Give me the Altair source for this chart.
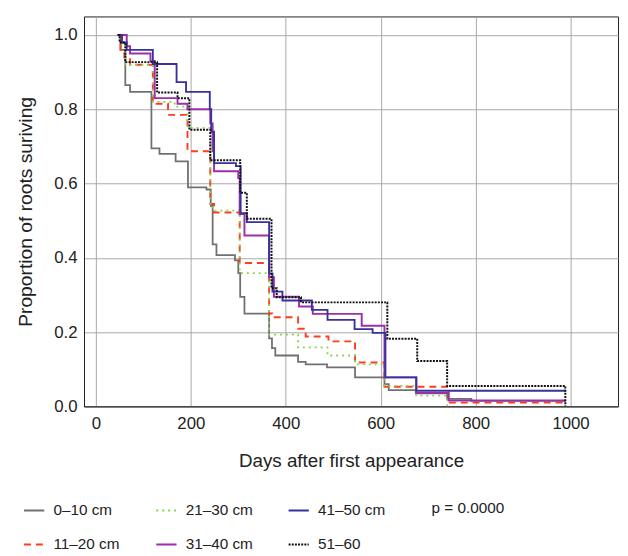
import altair as alt
import pandas as pd

# ---- data (days, proportion surviving) ----
series_names = ["0–10 cm", "11–20 cm", "21–30 cm", "31–40 cm", "41–50 cm", "51–60"]

t_0_10 = [46, 52, 62, 72, 117, 134, 168, 194, 233, 242, 246, 254, 293, 300, 304, 313,
          365, 371, 378, 426, 442, 487, 546, 608, 617, 674, 740, 791, 990]
s_0_10 = [1.0, 0.96, 0.865, 0.847, 0.695, 0.68, 0.66, 0.59, 0.584, 0.54, 0.436, 0.407,
          0.393, 0.359, 0.295, 0.25, 0.183, 0.157, 0.137, 0.12, 0.113, 0.105, 0.078,
          0.06, 0.044, 0.035, 0.02, 0.015, 0.015]

t_11_20 = [46, 52, 60, 72, 120, 152, 193, 241, 249, 303, 365, 372, 426, 442, 490, 546,
           608, 743, 988]
s_11_20 = [1.0, 0.96, 0.94, 0.92, 0.815, 0.785, 0.687, 0.545, 0.522, 0.386, 0.25, 0.24,
           0.209, 0.188, 0.175, 0.118, 0.053, 0.01, 0.01]

t_21_30 = [46, 55, 62, 120, 166, 193, 241, 249, 303, 365, 426, 488, 546, 608, 675, 740]
s_21_30 = [1.0, 0.97, 0.92, 0.82, 0.807, 0.75, 0.535, 0.527, 0.359, 0.193, 0.159,
           0.137, 0.113, 0.055, 0.029, 0.0]

t_31_40 = [46, 65, 72, 115, 124, 172, 193, 241, 246, 249, 300, 303, 313, 365, 375, 428,
           457, 560, 608, 675, 743, 990]
s_31_40 = [1.0, 0.97, 0.95, 0.93, 0.83, 0.815, 0.80, 0.762, 0.687, 0.633, 0.615, 0.518,
           0.46, 0.348, 0.295, 0.269, 0.249, 0.217, 0.078, 0.036, 0.016, 0.016]

t_41_50 = [46, 55, 65, 120, 170, 190, 240, 243, 249, 295, 305, 318, 365, 372, 393, 455,
           488, 545, 583, 610, 675, 990]
s_41_50 = [1.0, 0.98, 0.96, 0.922, 0.873, 0.847, 0.80, 0.74, 0.655, 0.647, 0.52, 0.496,
           0.358, 0.309, 0.285, 0.26, 0.233, 0.208, 0.198, 0.078, 0.042, 0.042]

t_51_60 = [46, 50, 62, 129, 172, 197, 241, 304, 318, 370, 381, 432, 614, 677, 740, 989]
s_51_60 = [1.0, 0.98, 0.927, 0.845, 0.83, 0.745, 0.663, 0.575, 0.505, 0.318, 0.294,
           0.28, 0.182, 0.122, 0.055, 0.0]

x_ticks = [0, 200, 400, 600, 800, 1000]
y_ticks = [0.0, 0.2, 0.4, 0.6, 0.8, 1.0]
p_label = "p = 0.0000"

# ---- build long table ----
all_t = [t_0_10, t_11_20, t_21_30, t_31_40, t_41_50, t_51_60]
all_s = [s_0_10, s_11_20, s_21_30, s_31_40, s_41_50, s_51_60]
rows = []
for order, (name, ts, ss) in enumerate(zip(series_names, all_t, all_s)):
    for t, s in zip(ts, ss):
        rows.append({"series": name, "ord": order, "days": t, "surv": s})
df = pd.DataFrame(rows)

legend_order = ["0–10 cm", "21–30 cm", "41–50 cm", "11–20 cm", "31–40 cm", "51–60"]
color_map = {
    "0–10 cm": "#707070",
    "11–20 cm": "#ff3c1c",
    "21–30 cm": "#86d455",
    "31–40 cm": "#9a2fa8",
    "41–50 cm": "#37309e",
    "51–60": "#111111",
}
dash_map = {
    "0–10 cm": [1, 0],
    "11–20 cm": [7, 5],
    "21–30 cm": [2, 4],
    "31–40 cm": [1, 0],
    "41–50 cm": [1, 0],
    "51–60": [2, 1.2],
}
width_map = {
    "0–10 cm": 1.8,
    "11–20 cm": 2,
    "21–30 cm": 2,
    "31–40 cm": 1.8,
    "41–50 cm": 1.8,
    "51–60": 3.2,
}

FONT = "Liberation Sans"
TXT = "#222222"


def make_legend():
    return alt.Legend(title=None, orient="none", legendX=-62, legendY=489,
                      columns=3, direction="horizontal", gridAlign="all",
                      symbolType="stroke", symbolSize=420,
                      symbolStrokeWidth=2, labelFontSize=15.5,
                      labelOffset=8, columnPadding=31,
                      rowPadding=14.5, labelFont=FONT, labelColor=TXT)


lines = alt.Chart(df).mark_line(interpolate="step-after").encode(
    x=alt.X("days:Q",
            scale=alt.Scale(domain=[-25, 1100], nice=False, zero=False),
            axis=alt.Axis(values=x_ticks, format="d",
                          title="Days after first appearance",
                          grid=True, ticks=False, labelPadding=9, titlePadding=21,
                          labelFontSize=17, titleFontSize=19,
                          titleFontWeight="normal")),
    y=alt.Y("surv:Q",
            scale=alt.Scale(domain=[0, 1.05], nice=False),
            axis=alt.Axis(values=y_ticks, format=".1f",
                          title="Proportion of roots suriving",
                          grid=True, ticks=False, labelPadding=7, titlePadding=19,
                          labelFontSize=17, titleFontSize=19.5,
                          titleFontWeight="normal")),
    color=alt.Color("series:N",
                    scale=alt.Scale(domain=legend_order,
                                    range=[color_map[k] for k in legend_order]),
                    legend=make_legend()),
    strokeDash=alt.StrokeDash("series:N",
                              scale=alt.Scale(domain=legend_order,
                                              range=[dash_map[k] for k in legend_order]),
                              legend=make_legend()),
    strokeWidth=alt.StrokeWidth("series:N",
                                scale=alt.Scale(domain=legend_order,
                                                range=[width_map[k] for k in legend_order]),
                                legend=None),
    detail="series:N",
    order=alt.Order("days:Q"),
)

ptext = alt.Chart(alt.Data(values=[{"label": p_label}])).mark_text(
    align="left", baseline="middle", fontSize=15.5, font=FONT, color=TXT
).encode(
    text="label:N",
    x=alt.value(352),
    y=alt.value(498),
)

chart = alt.layer(lines, ptext).properties(
    width=541,
    height=395,
    padding={"left": 77, "top": 5, "right": 2, "bottom": 146},
    autosize=alt.AutoSizeParams(type="none"),
).configure_view(
    stroke="#222222", strokeWidth=1
).configure_axis(
    gridColor="#a8a8a8", gridWidth=1, domainColor="#222222",
    labelColor=TXT, titleColor=TXT, labelFont=FONT, titleFont=FONT,
).configure_legend(
    labelLimit=200,
)

chart.save("out.html", embed_options={"renderer": "svg", "actions": False})
